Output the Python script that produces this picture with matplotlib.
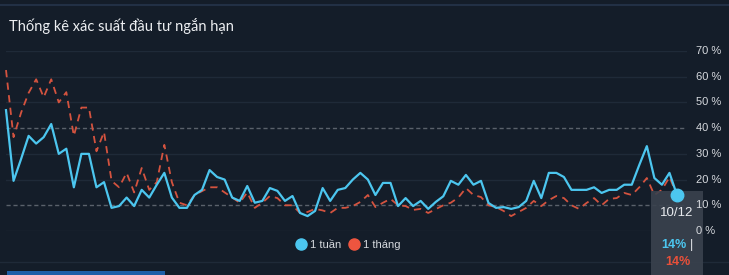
import numpy as np
import matplotlib
matplotlib.use("Agg")
import matplotlib.pyplot as plt
from matplotlib.lines import Line2D
from matplotlib.patches import Rectangle

# probability series (%), one point per session, last one is 10/12
week = [47, 19.5, 28, 37, 34, 36.5, 41.6, 30, 32, 17, 30, 30, 17, 19, 9, 9.7,
        13, 9.7, 16, 13, 18, 22.6, 13, 9, 9, 14, 16, 23.7, 21, 20, 13, 11.7,
        17.5, 11, 11.7, 16.7, 15.6, 11.7, 13.6, 7, 5.8, 7.8, 16.7, 11.7, 16,
        16.7, 20, 22.6, 20, 14, 18.7, 18.7, 9.7, 12.8, 9.7, 11.7, 8.6, 11.3,
        13.5, 19.5, 18, 21.8, 18, 19.5, 10.9, 9, 9.3, 8.6, 9.3, 11.7, 19.5,
        12.8, 22.6, 22.6, 21, 16, 16, 16, 17, 14.8, 16, 16, 18, 18, 25.7, 33,
        20.6, 18, 22.6, 14]
month = [62.6, 36.5, 46, 53.7, 59, 52, 59, 50, 54, 37, 48, 48, 31, 38.5, 19.5, 17,
         22.6, 15, 24.5, 16, 19, 33.5, 19, 11, 10, 14, 15.5, 17, 17, 15, 13, 11,
         15, 9, 11, 13.6, 12.8, 10, 10, 7, 7.4, 8.6, 8, 7, 9,
         9, 9.7, 11.3, 14, 9.3, 11, 12.5, 10, 9.7, 8.2, 8.6, 7, 8.5,
         10, 11, 13, 16.7, 14, 13.2, 10, 9.3, 7.8, 5.8, 7.4, 9, 11.7,
         9.7, 12, 13.6, 12.8, 10, 8.6, 10.9, 12.8, 10, 12.5, 12.8, 14.8, 14, 17, 20.6,
         14, 16, 21, 14]
yticks = [0, 10, 20, 30, 40, 50, 60, 70]
title = "Thống kê xác suất đầu tư ngắn hạn"
labels = ["1 tuần", "1 tháng"]
last_date = "10/12"

bg = "#141d29"
blue = "#4cc6ef"
red = "#d4533f"
txt = "#d6d9de"
sans = ["Liberation Sans", "DejaVu Sans"]

W, H = 729, 275
fig = plt.figure(figsize=(W / 100, H / 100), dpi=100, facecolor=bg)

def fx(px):
  return px / W

def fy(py):
  return 1 - py / H

ax = fig.add_axes([fx(6), fy(231), fx(687) - fx(6), fy(51) - fy(231)])
ax.set_facecolor(bg)
for s in ax.spines.values():
  s.set_visible(False)

x = np.arange(len(week))
ax.set_xlim(0, (687 - 6) / ((677 - 6) / (len(week) - 1)))
ax.set_ylim(0, 70)

for v in yticks:
  if v in (10, 40):
    ax.axhline(v, color="#5a616b", lw=1, ls=(0, (3, 2)), zorder=1)
  else:
    ax.axhline(v, color="#1f2a38", lw=1, zorder=1)

ax.plot(x, month, color=red, lw=1.3, ls=(0, (4, 3)), zorder=3, clip_on=False)
ax.plot(x, week, color=blue, lw=1.6, zorder=4, clip_on=False)
ax.plot(x[-1], week[-1], "o", color=blue, ms=9, zorder=6, clip_on=False)

# y labels drawn as texts so they sit above the tooltip box
ax.set_xticks([])
ax.set_yticks([])
ytr = ax.get_yaxis_transform()
for v in yticks:
  ax.text(1.0 + 9 / 681, v, "{} %".format(v), transform=ytr, color=txt, fontsize=8,
          ha="left", va="center", family=sans, clip_on=False, zorder=8)

ft = fig.transFigure
# frame lines top / bottom
fig.add_artist(Line2D([0, 1], [fy(5), fy(5)], color="#223045", lw=1.5))
ax.add_line(Line2D([0, 1], [fy(261.5), fy(261.5)], transform=ft, color="#1f2a38", lw=1,
                   zorder=2, clip_on=False))
fig.add_artist(Rectangle((fx(7), 0), fx(165) - fx(7), fy(271), color="#1f5fa8", lw=0))

fig.text(fx(9), fy(26), title, color="#eceef1", fontsize=10.5, va="center", ha="left",
         family=["Lato", "DejaVu Sans"])

handles = [Line2D([], [], marker="o", ls="none", ms=8, color=blue),
           Line2D([], [], marker="o", ls="none", ms=8, color="#ee553f")]
leg = fig.legend(handles, labels, loc="center", bbox_to_anchor=(fx(348), fy(245)),
                 ncol=2, frameon=False, handletextpad=0.3, columnspacing=0.6,
                 handlelength=1.0, prop={"family": sans, "size": 8})
for t in leg.get_texts():
  t.set_color(txt)

# tooltip
ax.add_patch(Rectangle((fx(651), 0), fx(703) - fx(651), fy(191), transform=ft,
                       facecolor="#3a424e", alpha=0.9, lw=0, zorder=5, clip_on=False))
ax.text(fx(677), fy(213), last_date, transform=ft, color="#e8eaee", fontsize=9.5,
        ha="center", va="center", family=sans, zorder=8)
ax.text(fx(687), fy(245), "{:.0f}%".format(week[-1]), transform=ft, color=blue, fontsize=9,
        weight="bold", ha="right", va="center", family=sans, zorder=8)
ax.text(fx(690), fy(245), "|", transform=ft, color="#e8eaee", fontsize=9, ha="left",
        va="center", family=sans, zorder=8)
ax.text(fx(678), fy(262), "{:.0f}%".format(month[-1]), transform=ft, color="#e8503a",
        fontsize=9, weight="bold", ha="center", va="center", family=sans, zorder=8)

fig.savefig("out.png", dpi=100, facecolor=bg)
